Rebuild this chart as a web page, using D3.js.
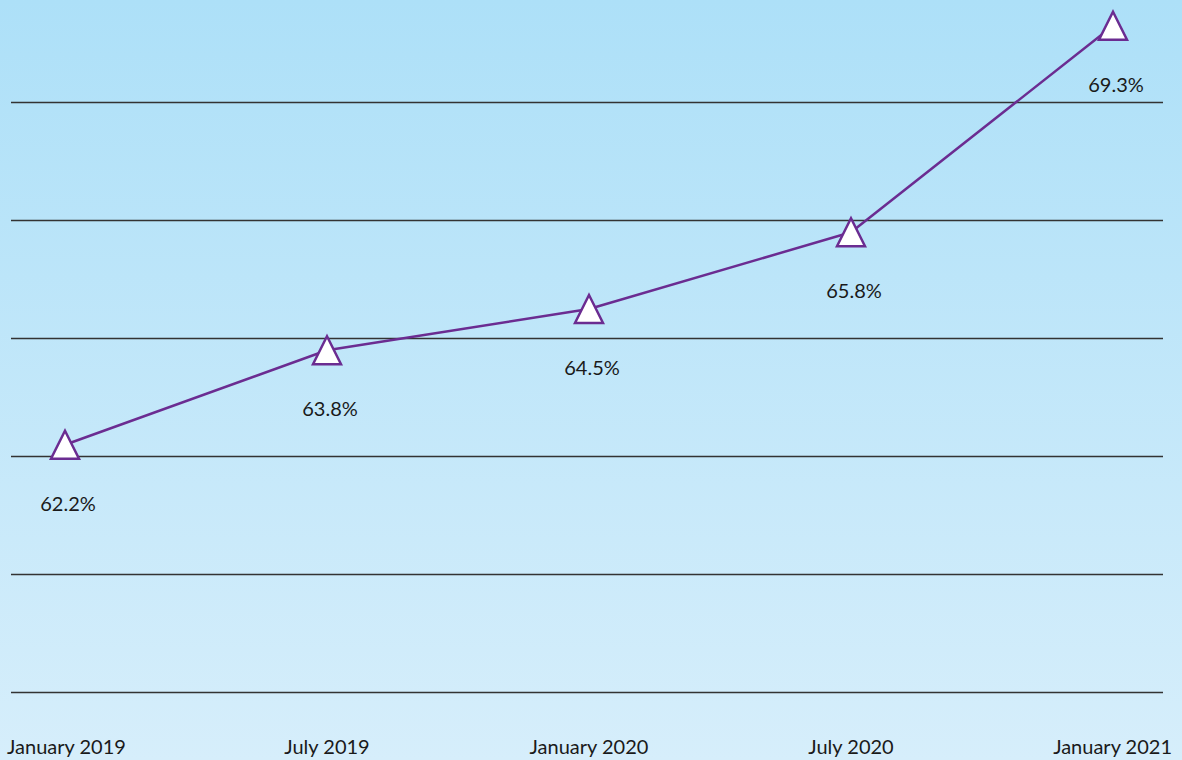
<!DOCTYPE html>
<head>
  <title>Line chart</title>
  <script src="https://d3js.org/d3.v7.min.js"></script>
  <style>
    body { margin: 0; }
    text { font-family: Lato, "Open Sans", sans-serif; fill: #1a1a1a; }
  </style>
</head>
<body>
  <svg width="1182" height="760"></svg>

  <script>
    var periods = ["January 2019", "July 2019", "January 2020", "July 2020", "January 2021"];
    var values = [62.2, 63.8, 64.5, 65.8, 69.3];
    var gridValues = [58, 60, 62, 64, 66, 68];

    var svg = d3.select("svg"),
        width = +svg.attr("width"),
        height = +svg.attr("height");

    // background gradient
    var grad = svg.append("defs").append("linearGradient")
        .attr("id", "bg")
        .attr("x1", 0).attr("y1", 0).attr("x2", 0).attr("y2", 1);
    grad.append("stop").attr("offset", "0%").attr("stop-color", "#ade0f8");
    grad.append("stop").attr("offset", "100%").attr("stop-color", "#d6eefb");

    svg.append("rect")
        .attr("width", width)
        .attr("height", height)
        .attr("fill", "url(#bg)");

    var x = d3.scalePoint()
        .domain(periods)
        .range([65, 1113]);

    var y = d3.scaleLinear()
        .domain([58, 70])
        .range([692.5, -15.5]);

    // gridlines
    svg.append("g").selectAll("line")
        .data(gridValues)
        .enter()
        .append("line")
        .attr("x1", 11)
        .attr("x2", 1163)
        .attr("y1", function(d) { return y(d); })
        .attr("y2", function(d) { return y(d); })
        .attr("stroke", "#333")
        .attr("stroke-width", 1.3);

    // x labels
    svg.append("g").selectAll("text")
        .data(periods)
        .enter()
        .append("text")
        .attr("x", function(d, i) {
            if (i === 0) return 7;
            if (i === periods.length - 1) return 1172;
            return x(d);
        })
        .attr("y", 754)
        .attr("font-size", 20)
        .attr("text-anchor", function(d, i) {
            if (i === 0) return "start";
            if (i === periods.length - 1) return "end";
            return "middle";
        })
        .text(function(d) { return d; });

    var line = d3.line()
        .x(function(d, i) { return x(periods[i]); })
        .y(function(d) { return y(d); });

    svg.append("path")
        .datum(values)
        .attr("fill", "none")
        .attr("stroke", "#6b2c91")
        .attr("stroke-width", 2.5)
        .attr("stroke-linejoin", "round")
        .attr("d", line);

    var tri = d3.line()([[0, -14], [14, 14], [-14, 14]]) + "Z";

    svg.append("g").selectAll("path")
        .data(values)
        .enter()
        .append("path")
        .attr("d", tri)
        .attr("transform", function(d, i) { return "translate(" + x(periods[i]) + "," + y(d) + ")"; })
        .attr("fill", "#fff")
        .attr("stroke", "#6b2c91")
        .attr("stroke-width", 2.5)
        .attr("stroke-linejoin", "miter");

    svg.append("g").selectAll("text")
        .data(values)
        .enter()
        .append("text")
        .attr("x", function(d, i) { return x(periods[i]) + 3; })
        .attr("y", function(d) { return y(d) + 66; })
        .attr("font-size", 20)
        .attr("text-anchor", "middle")
        .text(function(d) { return d.toFixed(1) + "%"; });
  </script>
</body>
</html>
